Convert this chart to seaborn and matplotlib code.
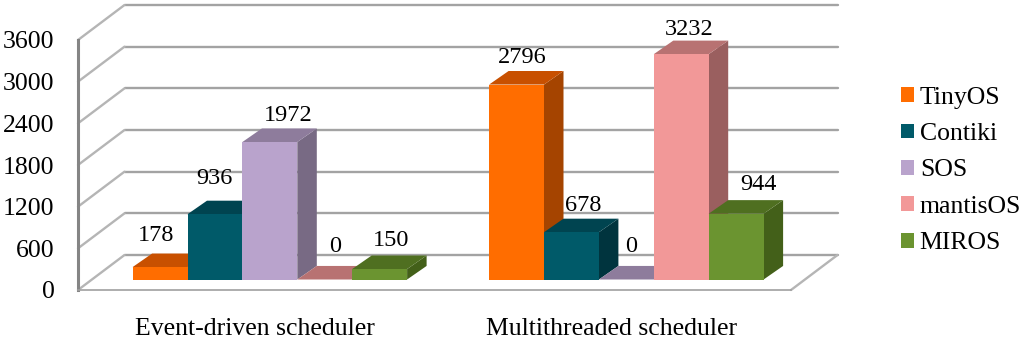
import matplotlib
matplotlib.use("Agg")
import matplotlib.pyplot as plt
import pandas as pd
import seaborn as sns
from matplotlib.patches import Polygon, Rectangle

schedulers = ["Event-driven scheduler", "Multithreaded scheduler"]
systems = ["TinyOS", "Contiki", "SOS", "mantisOS", "MIROS"]
event_driven = [178, 936, 1972, 0, 150]
multithreaded = [2796, 678, 0, 3232, 944]
y_ticks = [0, 600, 1200, 1800, 2400, 3000, 3600]

front_colors = ["#ff6d00", "#005a69", "#b9a3cc", "#f29898", "#6b9430"]
top_colors = ["#c85000", "#004450", "#8e7c9c", "#b87272", "#4f6f20"]
side_colors = ["#a54400", "#00343e", "#786a84", "#9a5f5f", "#436019"]

# label nudges in pixels (x, y) from the top of each front face
label_nudge = {
    0: [(-4, 32), (-1, 36), (18, 27), (10, 33), (11, 29)],
    1: [(6, 27), (12, 27), (5, 33), (8, 25), (22, 29)],
}

W, H = 1024, 339
UNITS_PER_PX = 3600 / 250
PX_PER_CAT = 356.5
XMIN, XMAX = -0.4965, 1.5035

sns.set_theme(style="white")
plt.rcParams["font.family"] = ["Liberation Serif", "DejaVu Serif"]

df = pd.DataFrame({
    "scheduler": [schedulers[0]] * 5 + [schedulers[1]] * 5,
    "os": systems * 2,
    "value": event_driven + multithreaded,
})

fig = plt.figure(figsize=(W / 100, H / 100), dpi=100, facecolor="white")


def plane(left, bottom_y, height=250):
    a = fig.add_axes([left / W, (H - bottom_y) / H, 713 / W, height / H])
    a.patch.set_visible(False)
    a.set_xlim(XMIN, XMAX)
    a.set_ylim(0, 3600)
    return a


# back wall with the grid, front plane with the ticks, bars in between
ax_back = plane(124.5, 255)
ax_front = plane(78, 290)
ax_bars = plane(92.85, 279.5, height=251)
ax_back.set_zorder(1)
ax_front.set_zorder(2)
ax_bars.set_zorder(3)

wall_dx = 46.5 / PX_PER_CAT
wall_dy = 35 * UNITS_PER_PX
ax_back.set_xticks([])
ax_back.set_yticks([])
sns.despine(ax=ax_back, left=True, bottom=True)
for v in y_ticks:
    ax_back.plot([XMIN, XMAX], [v, v], color="#a3a3a3", lw=1.7, clip_on=False)
    ax_back.plot([XMIN - wall_dx, XMIN], [v - wall_dy, v], color="#b5b5b5", lw=1.7, clip_on=False)
ax_back.plot([XMAX - wall_dx, XMAX], [-wall_dy, 0], color="#b5b5b5", lw=1.7, clip_on=False)

sns.despine(ax=ax_front)
ax_front.spines["left"].set_color("#858585")
ax_front.spines["left"].set_linewidth(2.2)
ax_front.spines["bottom"].set_color("#a0a0a0")
ax_front.spines["bottom"].set_linewidth(1.2)
ax_front.set_yticks(y_ticks)
ax_front.set_xticks([0, 1], schedulers)
ax_front.tick_params(axis="y", length=0, pad=17, labelsize=18.5, labelcolor="black")
ax_front.tick_params(axis="x", length=0, pad=20.5, labelsize=18.5, labelcolor="black")
for lab in ax_front.get_yticklabels():
    lab.set_verticalalignment("center_baseline")

sns.barplot(
    data=df, x="scheduler", y="value", hue="os", hue_order=systems,
    order=schedulers, palette=front_colors, saturation=1, width=0.77,
    gap=0, linewidth=0, ax=ax_bars,
)
ax_bars.set_xlim(XMIN, XMAX)
ax_bars.set_ylim(0, 3600)
ax_bars.set_xlabel("")
ax_bars.set_ylabel("")
ax_bars.set_xticks([])
ax_bars.set_yticks([])
sns.despine(ax=ax_bars, left=True, bottom=True)

bar_dx = 19.5 / PX_PER_CAT
bar_dy = 13.5 * UNITS_PER_PX
# legend handles also live in ax.patches with no width, skip those
bars = [p for p in ax_bars.patches if isinstance(p, Rectangle) and p.get_width() > 0]
bars = sorted(bars, key=lambda p: p.get_x())
for i, bar in enumerate(bars):
    group, s = divmod(i, len(systems))
    x0, x1 = bar.get_x(), bar.get_x() + bar.get_width()
    h = bar.get_height()
    z = 3 + i
    ax_bars.add_patch(Polygon(
        [(x1, 0), (x1 + bar_dx, bar_dy), (x1 + bar_dx, h + bar_dy), (x1, h)],
        color=side_colors[s], lw=0, zorder=z, clip_on=False))
    ax_bars.add_patch(Polygon(
        [(x0, h), (x0 + bar_dx, h + bar_dy), (x1 + bar_dx, h + bar_dy), (x1, h)],
        color=top_colors[s], lw=0, zorder=z, clip_on=False))
    bar.set_zorder(z + 0.5)
    bar.set_clip_on(False)
    ax_bars.annotate(
        str(int(h)), (bar.get_x() + bar.get_width() / 2, h),
        xytext=label_nudge[group][s], textcoords="offset pixels",
        ha="center", va="center", fontsize=17.5, color="black", zorder=50,
        annotation_clip=False,
    )

sns.move_legend(
    ax_bars, loc="center left", bbox_to_anchor=(900.5 / W, (H - 170.5) / H),
    bbox_transform=fig.transFigure, frameon=False, title=None, fontsize=18.5,
    handlelength=0.52, handleheight=0.52, handletextpad=0.23, labelspacing=0.56,
    borderpad=0, borderaxespad=0, labelcolor="black",
)

fig.savefig("out.png", dpi=100)
